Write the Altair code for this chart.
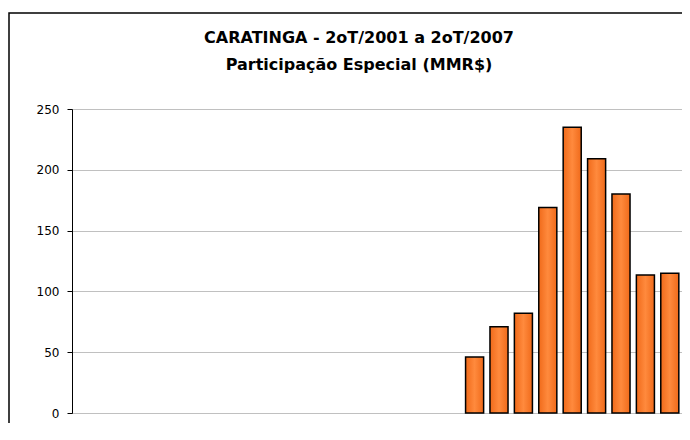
import altair as alt
import pandas as pd

periodos = ["2T2001", "3T2001", "4T2001",
            "1T2002", "2T2002", "3T2002", "4T2002",
            "1T2003", "2T2003", "3T2003", "4T2003",
            "1T2004", "2T2004", "3T2004", "4T2004",
            "1T2005", "2T2005", "3T2005", "4T2005",
            "1T2006", "2T2006", "3T2006", "4T2006",
            "1T2007", "2T2007"]
valores = [None] * 16 + [46, 71, 82, 169, 235, 209, 180, 113.5, 115]
titulo = ["CARATINGA - 2oT/2001 a 2oT/2007", "Participação Especial (MMR$)"]
y_ticks = [0, 50, 100, 150, 200, 250]

df = pd.DataFrame({"periodo": periodos, "valor": valores})

FONT = "DejaVu Sans"

grad = alt.LinearGradient(
    gradient="linear",
    stops=[alt.GradientStop(color="#F06A1A", offset=0),
           alt.GradientStop(color="#FF8A3D", offset=0.5),
           alt.GradientStop(color="#F06A1A", offset=1)],
    x1=0, x2=1, y1=0, y2=0,
)

bars = alt.Chart(df).mark_bar(
    fill=grad, stroke="#000000", strokeWidth=1.5
).encode(
    x=alt.X("periodo:N", sort=None,
            scale=alt.Scale(domain=periodos, paddingInner=0.26, paddingOuter=0.13),
            axis=None),
    y=alt.Y("valor:Q",
            scale=alt.Scale(domain=[0, 250], nice=False),
            axis=alt.Axis(values=y_ticks, title=None, grid=True,
                          gridColor="#c0c0c0", gridWidth=1,
                          domainColor="#000000", domainWidth=1,
                          tickColor="#000000", tickSize=5,
                          labelFont=FONT, labelFontSize=12, labelColor="#000000",
                          labelPadding=8)),
)

border = alt.Chart(alt.Data(values=[{}])).mark_rect(
    fill=None, stroke="#000000", strokeWidth=1.5
).encode(
    x=alt.value(-63), x2=alt.value(700),
    y=alt.value(-96), y2=alt.value(340),
)

title1 = alt.Chart(alt.Data(values=[{}])).mark_text(
    font=FONT, fontSize=16, fontWeight="bold", color="#000000",
    align="center", baseline="alphabetic"
).encode(x=alt.value(287), y=alt.value(-66), text=alt.value(titulo[0]))

title2 = alt.Chart(alt.Data(values=[{}])).mark_text(
    font=FONT, fontSize=16, fontWeight="bold", color="#000000",
    align="center", baseline="alphabetic"
).encode(x=alt.value(287), y=alt.value(-39), text=alt.value(titulo[1]))

chart = alt.layer(border, bars, title1, title2).properties(
    width=610, height=304,
    autosize=alt.AutoSizeParams(type="none"),
    padding={"left": 64, "top": 101, "right": 0, "bottom": 10},
).configure_view(stroke="#c0c0c0")

chart.save("out.html", embed_options={"renderer": "svg", "actions": False})
